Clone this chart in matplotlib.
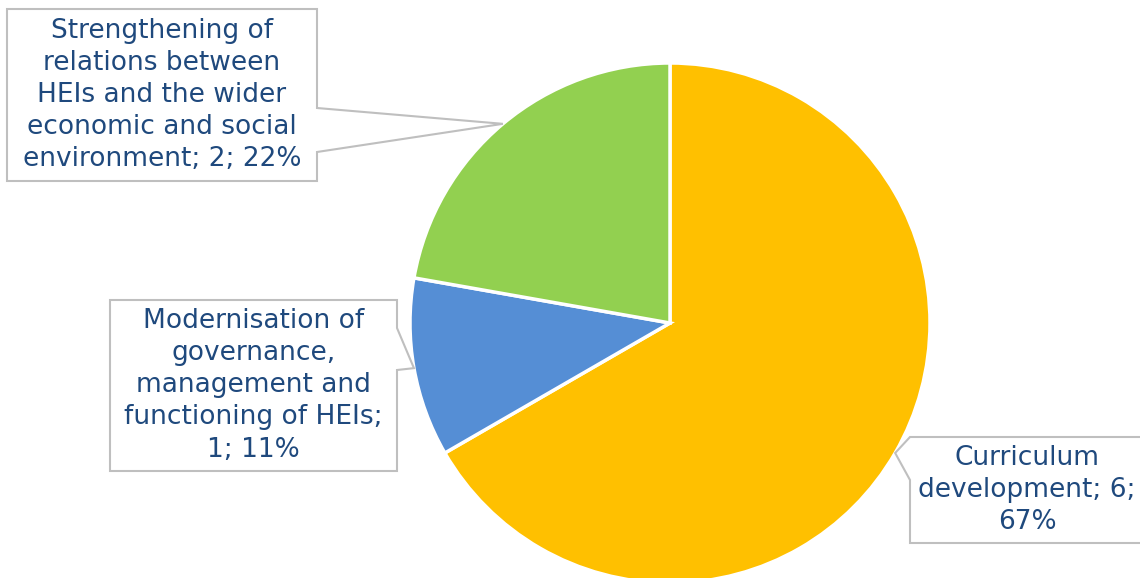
import numpy as np
import matplotlib.pyplot as plt
from matplotlib.patches import Polygon

# Data
categories = ["Curriculum development",
              "Modernisation of governance, management and functioning of HEIs",
              "Strengthening of relations between HEIs and the wider economic and social environment"]
counts = [6, 1, 2]
shares = [67, 11, 22]
label_text = ["Curriculum\ndevelopment; 6;\n67%",
              "Modernisation of\ngovernance,\nmanagement and\nfunctioning of HEIs;\n1; 11%",
              "Strengthening of\nrelations between\nHEIs and the wider\neconomic and social\nenvironment; 2; 22%"]
colors = ["#FFC000", "#558ED5", "#92D050"]

W, H = 1140, 578
fig = plt.figure(figsize=(W / 100, H / 100), dpi=100)
ax = fig.add_axes([0, 0, 1, 1])

# pie in pixel space (y measured from bottom)
cx, cy, r = 670, H - 323, 260
wedges, _ = ax.pie(counts, colors=colors, startangle=90, counterclock=False,
                   center=(cx, cy), radius=r, frame=True,
                   wedgeprops=dict(edgecolor="white", linewidth=2.5))
ax.set_xlim(0, W)
ax.set_ylim(0, H)
ax.set_aspect("equal")
ax.axis("off")

# callout boxes: left, top, right, bottom (pixels from top), pointer side, pointer base
boxes = [(910, 437, 1145, 543, "left", 437, 480),
         (110, 300, 397, 471, "right", 328, 370),
         (7, 9, 317, 181, "right", 108, 152)]
text_col = "#1F497D"
border = "#BFBFBF"

for w, txt, (l, t, rr, b, side, p0, p1) in zip(wedges, label_text, boxes):
    # pointer tip at the middle of each slice's arc
    mid = np.deg2rad((w.theta1 + w.theta2) / 2)
    tip = (cx + r * np.cos(mid), cy + r * np.sin(mid))
    if side == "right":
        pts = [(l, H - t), (rr, H - t), (rr, H - p0), tip, (rr, H - p1),
               (rr, H - b), (l, H - b)]
        tx = (l + rr) / 2
    else:
        pts = [(l, H - t), (rr, H - t), (rr, H - b), (l, H - b), (l, H - p1),
               tip, (l, H - p0)]
        tx = 1027
    poly = Polygon(pts, closed=True, facecolor="white", edgecolor=border,
                   linewidth=1.5, zorder=3)
    ax.add_patch(poly)
    ax.text(tx, H - (t + b) / 2, txt, ha="center", va="center",
            fontsize=19, color=text_col, linespacing=1.3, zorder=4,
            family="DejaVu Sans")

fig.savefig("out.png", dpi=100)
